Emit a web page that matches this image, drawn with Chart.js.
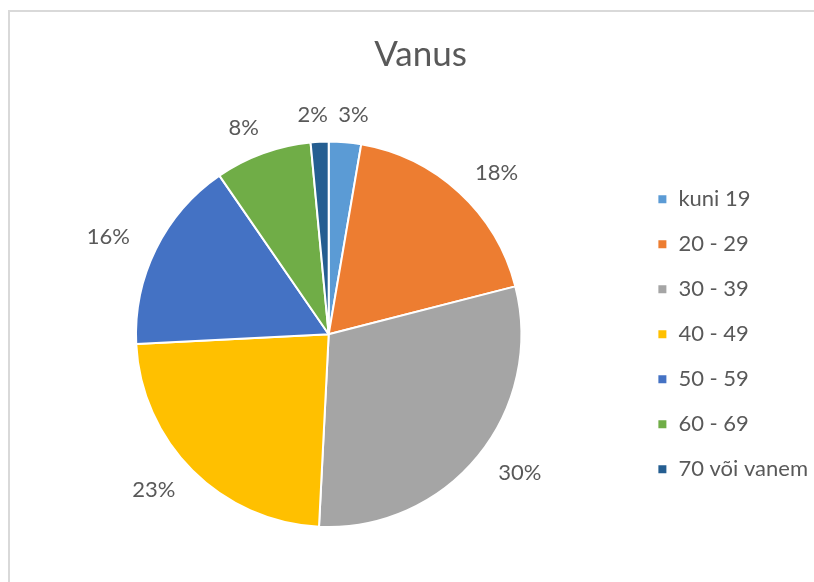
<!DOCTYPE html>
<html>
<head>
<meta charset="utf-8">
<script src="https://cdn.jsdelivr.net/npm/chart.js@4.4.1/dist/chart.umd.min.js"></script>
<style>
    html, body { margin: 0; padding: 0; background: #fff; }
    #wrap { position: relative; width: 814px; height: 582px; overflow: hidden; }
    #frame {
        position: absolute; left: 8px; top: 10px; width: 900px; height: 700px;
        border-top: 2px solid #d9d9d9; border-left: 2px solid #d9d9d9;
    }
    canvas { position: absolute; left: 0; top: 0; }
</style>
</head>
<body>
<div id="wrap">
    <div id="frame"></div>
    <canvas id="pie" width="814" height="582"></canvas>
</div>
<script>
/* Vanus — Excel-style pie, labels outside, legend right */

const labels = ["kuni 19", "20 - 29", "30 - 39", "40 - 49", "50 - 59", "60 - 69", "70 või vanem"];
const shares = [2.7, 18.3, 29.8, 23.4, 16.2, 8.1, 1.5];
const colors = ["#5B9BD5", "#ED7D31", "#A5A5A5", "#FFC000", "#4472C4", "#70AD47", "#255E91"];

const TEXT = "#595959";
const FONT = "Lato, 'Open Sans', sans-serif";

// percent labels just outside each slice (text box pushed out like Excel's "outside end")
const outsideLabels = {
    id: "outsideLabels",
    afterDatasetsDraw(chart) {
        const { ctx } = chart;
        const meta = chart.getDatasetMeta(0);
        const total = shares.reduce((a, b) => a + b, 0);
        ctx.save();
        ctx.font = `22px ${FONT}`;
        ctx.fillStyle = TEXT;
        ctx.textAlign = "center";
        ctx.textBaseline = "middle";
        meta.data.forEach((arc, i) => {
            const { x, y, startAngle, endAngle, outerRadius } = arc.getProps(
                ["x", "y", "startAngle", "endAngle", "outerRadius"], true);
            const mid = (startAngle + endAngle) / 2;
            const text = `${Math.round((shares[i] / total) * 100)}%`;
            const w = ctx.measureText(text).width;
            const d = outerRadius + 16;
            const lx = x + Math.cos(mid) * (d + w / 2 + 10) + Math.sign(Math.cos(mid)) * 5;
            const ly = y + Math.sin(mid) * (d + 11);
            ctx.fillText(text, lx, ly);
        });
        ctx.restore();
    },
};

new Chart(document.getElementById("pie"), {
    type: "pie",
    data: {
        labels,
        datasets: [{
            data: shares,
            backgroundColor: colors,
            borderColor: "#ffffff",
            borderWidth: 2,
        }],
    },
    options: {
        responsive: false,
        animation: false,
        layout: { padding: { left: 23, right: -4, top: 10, bottom: 54 } },
        plugins: {
            title: {
                display: true,
                text: "Vanus",
                color: TEXT,
                font: { family: FONT, size: 35, weight: "normal" },
                padding: { top: 24, bottom: 64.6 },
            },
            legend: {
                position: "right",
                fullSize: false,
                labels: {
                    color: TEXT,
                    font: { family: FONT, size: 22 },
                    boxWidth: 10,
                    boxHeight: 10,
                    padding: 23,
                },
            },
            tooltip: { enabled: false },
        },
    },
    plugins: [outsideLabels],
});
</script>
</body>
</html>
